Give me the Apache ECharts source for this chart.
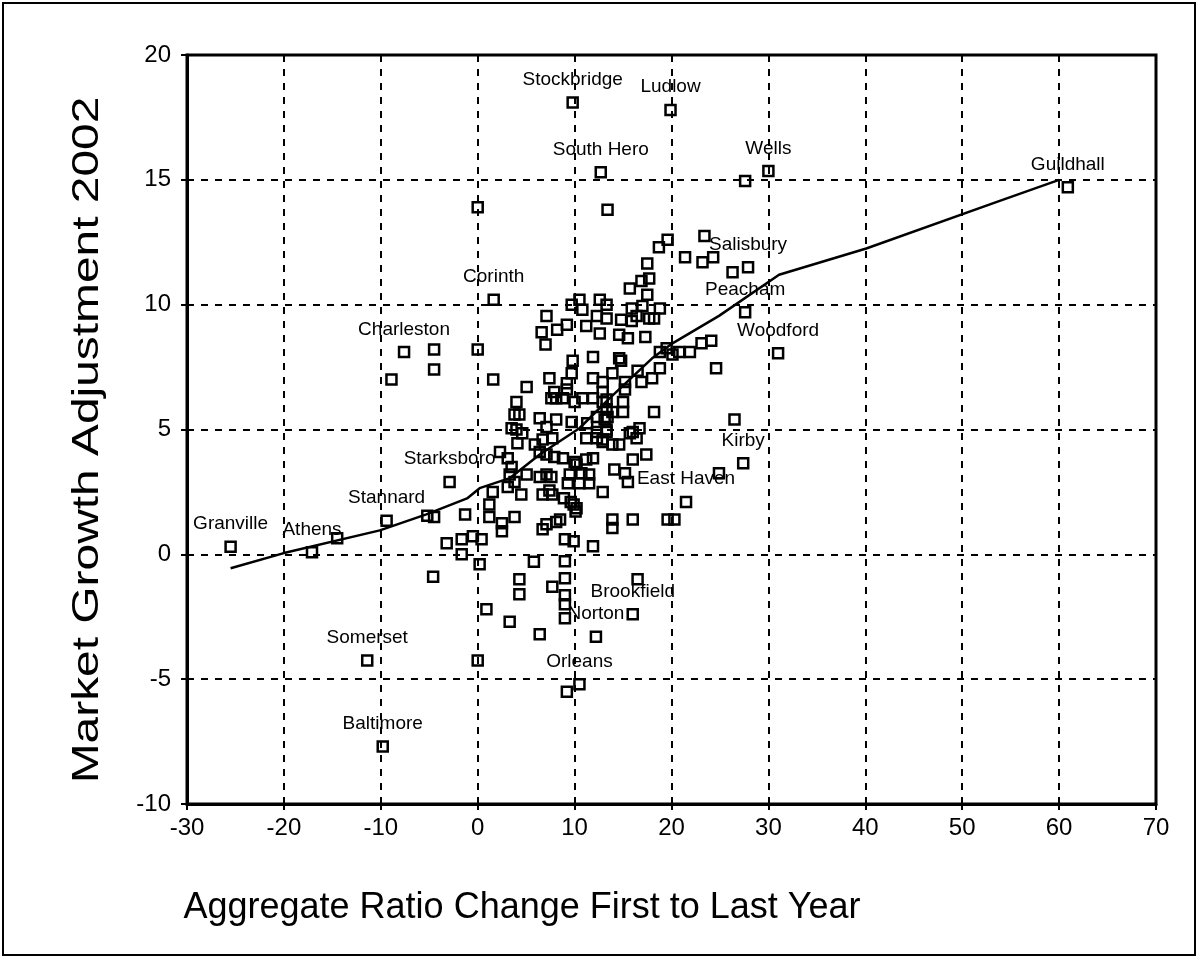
<!DOCTYPE html>
<html><head><meta charset="utf-8">
<script src="https://cdn.jsdelivr.net/npm/echarts@6/dist/echarts.min.js"></script>
<style>html,body{margin:0;padding:0;background:#fff}#c{width:1199px;height:959px}</style>
</head><body><div id="c"></div>
<script>
// Axis ranges / ticks
const xMin = -30, xMax = 70, xStep = 10;
const yMin = -10, yMax = 20, yStep = 5;
const xTitle = 'Aggregate Ratio Change First to Last Year';
const yTitle = 'Market Growth Adjustment 2002';

// Labelled towns
const townNames = ['Stockbridge','Ludlow','South Hero','Wells','Guildhall','Salisbury','Peacham','Corinth','Charleston','Woodford','Kirby','Starksboro','East Haven','Stannard','Granville','Athens','Brookfield','Norton','Somerset','Orleans','Baltimore'];
const townX = [9.8, 19.9, 12.7, 30.0, 60.9, 27.9, 27.6, 1.65, -7.6, 31.0, 27.4, -2.9, 21.5, -9.4, -25.5, -17.1, 16.0, 12.2, -11.4, 10.5, -9.8];
const townY = [18.1, 17.8, 15.3, 15.35, 14.7, 11.5, 9.7, 10.2, 8.1, 8.05, 3.65, 2.9, 2.1, 1.35, 0.3, 0.08, -2.4, -3.3, -4.25, -5.2, -7.7];

// Other towns (x, y)
const otherPoints = [
[27.6,14.95],[13.4,13.8],[0,13.9],
[23.4,12.75],[19.6,12.6],[18.7,12.3],[21.4,11.9],[23.2,11.7],[24.3,11.9],[26.3,11.3],
[17.5,11.65],[17.7,11.05],[16.9,10.95],[15.7,10.65],[17.5,10.4],[18.8,9.85],[18.2,9.45],
[-4.5,8.2],[-4.5,7.4],[-8.9,7.0],[0,8.2],[1.6,7.0],
[10.5,10.2],[10.8,9.8],[12.6,10.2],[13.3,10.0],[15.9,9.85],[17.0,9.95],[9.7,10.0],
[7.1,9.55],[9.2,9.2],[8.2,9.0],[6.6,8.9],[7.0,8.4],[11.2,9.15],[12.3,9.55],[13.3,9.45],[12.6,8.85],[14.8,9.4],[15.9,9.35],[16.4,9.55],[17.7,9.45],[14.6,8.8],[15.5,8.65],[17.3,8.7],
[9.8,7.75],[11.9,7.9],[14.6,7.85],[16.5,7.35],[18.8,8.1],[19.5,8.25],[20.1,8.0],[20.8,8.1],[21.9,8.1],[23.1,8.45],[24.1,8.55],[24.6,7.45],[18.8,7.45],[18.0,7.05],[16.9,6.9],[18.2,5.7],[26.5,5.4],
[5.05,6.7],[4.0,6.1],[3.8,5.6],[4.3,5.6],[3.5,5.05],[4.0,5.0],[4.6,4.85],[4.1,4.45],[2.3,4.1],[3.1,3.85],[3.5,3.5],[3.3,3.2],[3.8,2.9],[3.1,2.7],[5.05,3.2],[4.5,2.4],[1.55,2.5],[1.2,2.0],[-1.3,1.6],[1.2,1.5],[2.5,1.25],[2.5,0.92],[3.8,1.5],
[7.4,7.05],[7.6,6.25],[8.1,6.25],[8.8,6.25],[9.2,6.6],[7.9,6.5],[9.2,6.85],[9.7,7.25],[11.9,7.05],[12.9,6.9],[13.9,7.25],[14.8,7.75],[15.2,6.9],[15.2,6.6],[12.9,6.5],[12.9,6.1],[11.9,6.25],[10.8,6.25],[10.0,6.1],[15.0,6.1],[15.0,5.7],[13.9,5.7],[13.4,5.5],[12.3,5.5],[11.3,5.25],[9.7,5.3],[8.1,5.4],[6.4,5.45],[7.1,5.1],[7.7,4.65],[6.7,4.6],[5.9,4.4],[6.4,4.1],[7.1,4.0],[7.9,3.9],[8.8,3.85],[10.0,3.7],[10.2,3.6],[11.2,3.8],[11.9,3.85],[11.5,3.2],[11.5,2.85],[10.7,3.25],[10.5,2.85],[9.3,2.85],[9.5,3.2],[11.2,4.65],[12.3,4.65],[12.9,4.5],[13.3,4.9],[12.3,4.9],[13.9,4.4],[14.6,4.4],[15.7,4.85],[16.0,4.9],[16.7,5.05],[16.4,4.65],
[13.3,6.2],[13.3,5.8],[13.1,5.4],[13.3,5.0],[12.9,4.6],
[14.1,3.4],[15.2,3.25],[15.5,2.9],[17.4,4.0],[16.0,3.8],[12.9,2.5],[24.9,3.25],
[13.9,1.4],[13.9,1.05],[16.0,1.4],[19.6,1.4],[20.3,1.4],
[6.7,2.4],[7.7,2.4],[7.4,2.56],[6.4,3.1],[7.6,3.1],[7.1,3.2],
[8.9,2.25],[9.6,2.1],[9.9,2.0],[10.2,1.85],[10.1,1.72],
[6.7,1.0],[7.1,1.2],[8.1,1.3],[8.5,1.4],[9.0,0.6],[9.9,0.52],[11.9,0.32],
[-3.2,0.44],[-1.65,0.6],[-1.65,0.0],[-0.5,0.72],[0.4,0.6],[0.2,-0.4],
[9.0,-0.28],[9.0,-0.96],[9.0,-1.64],[9.0,-2.0],[9.0,-2.56],[7.7,-1.3],[4.3,-1.0],[4.3,-1.6],[5.8,-0.3],[3.3,-2.7],[0.9,-2.2],[6.4,-3.2],[-4.6,-0.9],[16.5,-1.0],[9.2,-5.5],[0,-4.25],
[-14.5,0.64],[-5.2,1.55],[-4.5,1.5]
];

// Smoothed fit line
const fitX = [-25.5, -20.1, -10.1, -5.3, -1.1, 0.2, 3.3, 6.4, 10.5, 13.6, 18.0, 20.1, 24.9, 31.1, 40.1, 53.8, 60.0];
const fitY = [-0.56, 0.04, 0.96, 1.6, 2.24, 2.65, 3.05, 4.0, 5.05, 6.25, 7.85, 8.45, 9.55, 11.2, 12.25, 14.15, 15.0];

const FONT = '"Liberation Sans", Arial, Helvetica, sans-serif';
const chart = echarts.init(document.getElementById('c'), null, {renderer: 'canvas'});
const markStyle = {color: 'rgba(0,0,0,0)', borderColor: '#000', borderWidth: 2.5, opacity: 1};
const gridLine = {show: true, lineStyle: {color: '#000', width: 2, type: [7, 7]}};

chart.setOption({
  animation: false,
  backgroundColor: '#fff',
  grid: {left: 187, top: 55, right: 43, bottom: 155, show: true, borderColor: '#000', borderWidth: 3, backgroundColor: 'transparent'},
  xAxis: {
    type: 'value', min: xMin, max: xMax, interval: xStep,
    axisLine: {show: true, onZero: false, lineStyle: {color: '#000', width: 3}},
    axisTick: {show: true, length: 6, lineStyle: {color: '#000', width: 2}},
    axisLabel: {color: '#000', fontSize: 24, fontFamily: FONT, margin: 12},
    splitLine: gridLine
  },
  yAxis: {
    type: 'value', min: yMin, max: yMax, interval: yStep,
    axisLine: {show: true, onZero: false, lineStyle: {color: '#000', width: 3}},
    axisTick: {show: true, length: 6, lineStyle: {color: '#000', width: 2}},
    axisLabel: {color: '#000', fontSize: 24, fontFamily: FONT, margin: 16},
    splitLine: gridLine
  },
  graphic: [
    {type: 'rect', shape: {x: 3, y: 3, width: 1192, height: 952}, style: {fill: 'none', stroke: '#000', lineWidth: 2}, silent: true},
    {type: 'text', x: 522, y: 908, style: {text: xTitle, font: '36px ' + FONT, fill: '#000', textAlign: 'center', textVerticalAlign: 'middle'}},
    {type: 'text', x: 88, y: 440, rotation: Math.PI / 2, scaleX: 1.33, style: {text: yTitle, font: '36px ' + FONT, fill: '#000', textAlign: 'center', textVerticalAlign: 'middle'}}
  ],
  series: [
    {
      type: 'line', data: fitX.map((x, i) => [x, fitY[i]]), showSymbol: false, symbol: 'none',
      lineStyle: {color: '#000', width: 2.5}, z: 3
    },
    {
      type: 'scatter', data: otherPoints, symbol: 'rect', symbolSize: 10,
      itemStyle: markStyle, z: 4
    },
    {
      type: 'scatter', symbol: 'rect', symbolSize: 10, itemStyle: markStyle, z: 5,
      data: townNames.map((n, i) => ({name: n, value: [townX[i], townY[i]]})),
      label: {show: true, position: 'top', distance: 7, formatter: '{b}', color: '#000', opacity: 1, fontSize: 19, fontFamily: FONT}
    }
  ]
});
</script></body></html>
